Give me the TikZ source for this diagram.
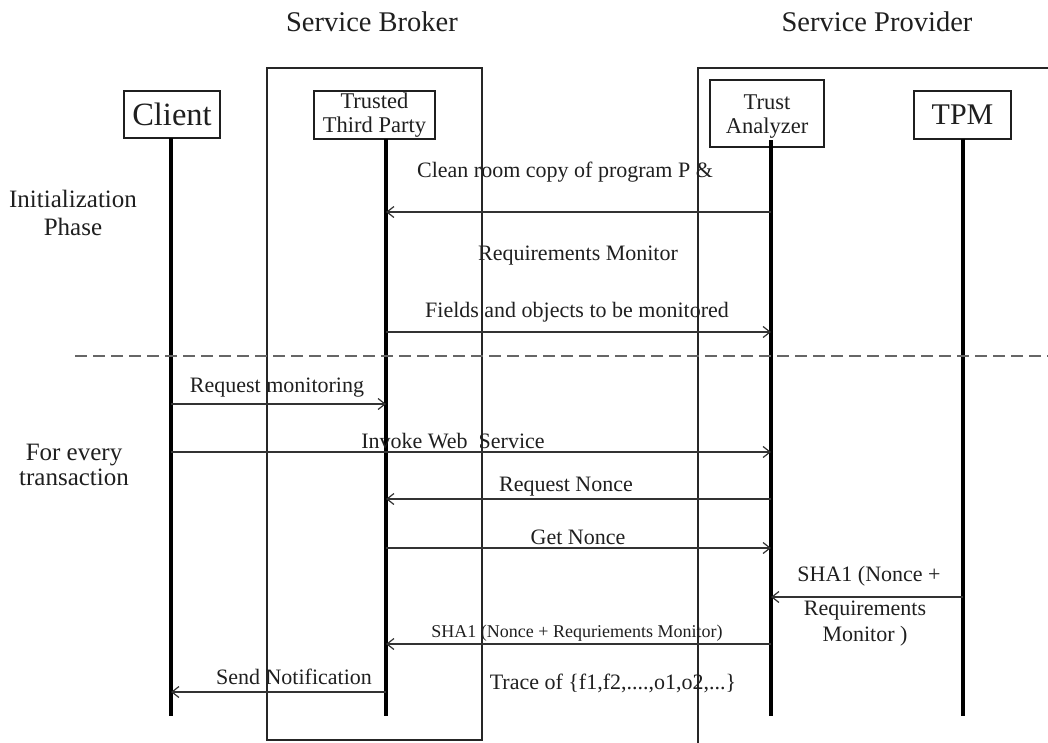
\documentclass[tikz,border=0pt]{standalone}
\usepackage{fontspec}
\setmainfont{Liberation Serif}
\usetikzlibrary{arrows.meta}

\begin{document}
\begin{tikzpicture}[x=1pt,y=-1pt,
  ink/.style={color=black!88},
  title/.style={ink,font=\fontsize{28.5}{30}\selectfont},
  phase/.style={ink,font=\fontsize{25}{28}\selectfont,align=center},
  actor/.style={draw,line width=1.3pt,inner sep=0pt,ink,align=center},
  bigname/.style={font=\fontsize{32.5}{34}\selectfont},
  smallname/.style={font=\fontsize{22.5}{23.5}\selectfont},
  frame/.style={draw,line width=1.2pt,color=black!85},
  lifeline/.style={line width=3.5pt,color=black},
  msg/.style={line width=1.3pt,color=black!80,-{Straight Barb[length=7pt,width=11pt,line width=1.2pt]}},
  msglabel/.style={ink,font=\fontsize{22}{26}\selectfont,align=center,inner sep=0pt},
  tinylabel/.style={ink,font=\fontsize{18}{20}\selectfont,inner sep=0pt},
  divider/.style={line width=1.4pt,color=black!60,dash pattern=on 12pt off 6pt}
]
\useasboundingbox (0,0) rectangle (1048,742);

% group titles
\node[title] (sb) at (372,22) {Service Broker};
\node[title] (sp) at (877,22) {Service Provider};

% group frames
\draw[frame] (267,68) rectangle (482,740);
\draw[frame] (698,750) -- (698,68) -- (1060,68);

% participants
\node[actor,bigname,minimum width=96pt,minimum height=47pt] (client) at (172,114.5) {Client};
\node[actor,smallname,minimum width=121pt,minimum height=48pt] (ttp) at (374.5,115) {Trusted\\Third Party};
\node[actor,smallname,minimum width=114pt,minimum height=67pt] (ta) at (767,113.5) {\rule{0pt}{21pt}Trust\\Analyzer};
\node[actor,font=\fontsize{30}{32}\selectfont,minimum width=97pt,minimum height=48pt] (tpm) at (962.5,115) {TPM};

% lifelines
\coordinate (cTop) at (171,138);   \coordinate (cBot) at (171,716);
\coordinate (tTop) at (386,139);   \coordinate (tBot) at (386,716);
\coordinate (aTop) at (771,140);   \coordinate (aBot) at (771,716);
\coordinate (pTop) at (963,139);   \coordinate (pBot) at (963,716);
\draw[lifeline] (cTop) -- (cBot);
\draw[lifeline] (tTop) -- (tBot);
\draw[lifeline] (aTop) -- (aBot);
\draw[lifeline] (pTop) -- (pBot);

% phase labels
\node[phase] (init) at (73,213) {Initialization\\Phase};
\node[phase,font=\fontsize{25}{25}\selectfont] (every) at (74,465) {For every\\transaction};

% phase divider
\coordinate (dL) at (75,356);
\coordinate (dR) at (1052,356);
\draw[divider] (dL) -- (dR);

% initialization messages
\node[msglabel] (l1) at (565,172) {Clean room copy of program P \&};
\node[msglabel] (l2) at (578,256) {Requirements Monitor};
\coordinate (m1s) at (771,212); \coordinate (m1e) at (386,212);
\draw[msg] (m1s) -- (m1e);
\node[msglabel] (l3) at (577,312) {Fields and objects to be monitored};
\coordinate (m2s) at (386,332); \coordinate (m2e) at (771,332);
\draw[msg] (m2s) -- (m2e);

% per-transaction messages
\node[msglabel] (l4) at (277,388) {Request monitoring};
\coordinate (m3s) at (171,404); \coordinate (m3e) at (386,404);
\draw[msg] (m3s) -- (m3e);

\node[msglabel] (l5) at (453,441) {Invoke Web\ \ Service};
\coordinate (m4s) at (171,452); \coordinate (m4e) at (771,452);
\draw[msg] (m4s) -- (m4e);

\node[msglabel] (l6) at (566,487) {Request Nonce};
\coordinate (m5s) at (771,499); \coordinate (m5e) at (386,499);
\draw[msg] (m5s) -- (m5e);

\node[msglabel] (l7) at (578,537) {Get Nonce};
\coordinate (m6s) at (386,548); \coordinate (m6e) at (771,548);
\draw[msg] (m6s) -- (m6e);

\node[msglabel] (l8) at (869,576) {SHA1 (Nonce +};
\node[msglabel] (l9) at (865,624) {Requirements\\Monitor )};
\coordinate (m7s) at (963,597); \coordinate (m7e) at (771,597);
\draw[msg] (m7s) -- (m7e);

\node[tinylabel] (l10) at (577,633) {SHA1 (Nonce + Requriements Monitor)};
\coordinate (m8s) at (771,644); \coordinate (m8e) at (386,644);
\draw[msg] (m8s) -- (m8e);

\node[msglabel] (l11) at (294,677) {Send Notification};
\coordinate (m9s) at (386,692); \coordinate (m9e) at (171,692);
\draw[msg] (m9s) -- (m9e);

\node[msglabel] (l12) at (613,683) {Trace of \{f1,f2,....,o1,o2,...\}};
\end{tikzpicture}
\end{document}
